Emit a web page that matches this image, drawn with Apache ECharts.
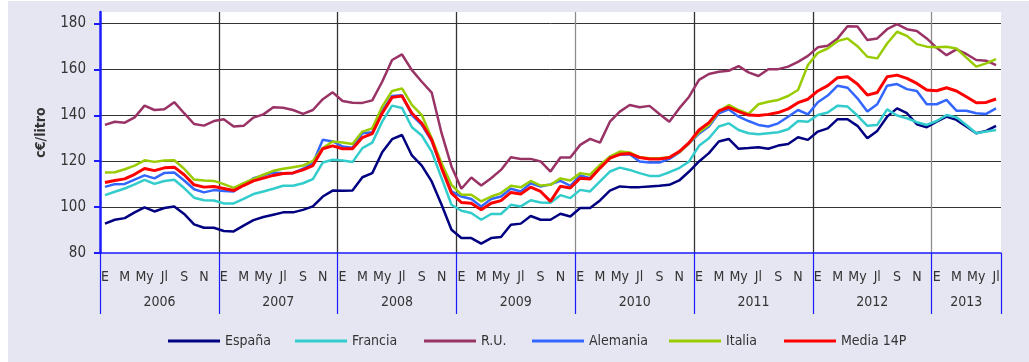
<!DOCTYPE html>
<html>
<head>
<meta charset="utf-8">
<script src="https://cdn.jsdelivr.net/npm/echarts@6/dist/echarts.min.js"></script>
<style>
  body { margin: 0; background: #fff; }
  #box { position: absolute; left: 8px; top: 1px; width: 1021px; height: 361px; background: #e6e6f2; }
</style>
</head>
<body>
<div id="box"></div>
<script>
// meses (etiquetas del eje) y años
const months = ['E', 'F', 'M', 'A', 'My', 'Jn', 'Jl', 'Ag', 'S', 'O', 'N', 'D'];
const years = ['2006', '2007', '2008', '2009', '2010', '2011', '2012', '2013'];
const nMonths = 91; // ene 2006 - jul 2013
const yTicks = [80, 100, 120, 140, 160, 180];

// c€/litro, mensual
const espana = [92.8, 94.5, 95.2, 97.7, 99.9, 98.1, 99.6, 100.3, 97.0, 92.5, 91.0, 91.0,
  89.6, 89.4, 91.9, 94.3, 95.7, 96.7, 97.7, 97.7, 98.8, 100.3, 104.6, 107.2,
  107.1, 107.2, 113.0, 114.8, 123.9, 129.6, 131.4, 122.5, 118.1, 111.2, 101.0, 90.1,
  86.5, 86.5, 84.1, 86.5, 87.0, 92.3, 92.8, 96.1, 94.5, 94.5, 97.1, 95.9,
  99.6, 99.6, 102.9, 107.2, 109.0, 108.7, 108.7, 109.0, 109.3, 109.7, 111.6, 115.5,
  119.9, 123.5, 128.6, 129.7, 125.4, 125.7, 126.1, 125.4, 126.8, 127.5, 130.4, 129.3,
  132.9, 134.3, 138.3, 138.3, 135.4, 130.0, 133.2, 139.4, 143.0, 140.9, 136.1, 134.8,
  137.2, 139.4, 138.0, 135.1, 132.2, 133.2, 135.4];
const francia = [105.2, 106.7, 108.1, 109.9, 111.9, 110.1, 111.4, 111.9, 108.3, 104.1, 103.0, 102.9,
  101.6, 101.6, 103.6, 105.7, 106.8, 108.0, 109.3, 109.3, 110.4, 112.2, 119.4, 120.6,
  120.3, 119.6, 125.7, 128.1, 137.2, 144.2, 143.2, 134.8, 131.2, 124.2, 112.6, 101.0,
  98.4, 97.4, 94.5, 97.0, 97.0, 101.0, 100.3, 103.0, 102.0, 101.9, 105.2, 103.9,
  107.5, 106.8, 111.2, 115.5, 117.2, 116.2, 114.8, 113.6, 113.6, 115.2, 117.0, 119.9,
  126.7, 130.0, 135.1, 136.5, 133.6, 132.2, 131.7, 132.2, 132.6, 133.9, 137.5, 137.2,
  140.1, 141.2, 144.2, 143.8, 139.9, 135.4, 135.8, 142.6, 139.9, 138.7, 137.0, 135.8,
  137.5, 140.1, 139.1, 135.8, 132.2, 132.9, 133.6];
const ru = [135.8, 137.2, 136.8, 139.1, 144.2, 142.3, 142.6, 145.7, 140.9, 136.2, 135.5, 137.5,
  138.3, 135.1, 135.4, 139.0, 140.4, 143.5, 143.3, 142.3, 140.6, 142.3, 147.0, 150.0,
  146.2, 145.5, 145.4, 146.5, 154.6, 164.1, 166.5, 159.7, 154.6, 149.9, 132.2, 117.7,
  108.0, 112.9, 109.4, 112.6, 116.2, 121.7, 121.0, 121.0, 119.9, 115.5, 121.6, 121.6,
  127.1, 129.7, 128.1, 137.2, 141.6, 144.5, 143.5, 144.1, 140.6, 137.2, 143.0, 148.1,
  155.4, 158.0, 159.0, 159.4, 161.4, 158.7, 157.1, 160.1, 160.1, 161.2, 163.3, 165.9,
  169.6, 170.3, 173.5, 178.8, 178.7, 172.8, 173.5, 177.5, 179.7, 177.5, 176.7, 173.5,
  169.4, 166.2, 168.7, 166.7, 164.1, 163.8, 161.9];
const alemania = [108.8, 110.0, 110.1, 112.0, 113.8, 112.5, 114.9, 115.1, 111.6, 107.8, 106.4, 107.4,
  107.0, 106.8, 109.7, 112.6, 113.8, 115.1, 114.8, 114.8, 116.7, 119.1, 129.3, 128.6,
  126.4, 125.9, 132.2, 132.6, 141.9, 148.4, 148.7, 140.1, 135.8, 128.8, 117.7, 106.8,
  104.6, 103.5, 100.3, 103.5, 104.6, 108.0, 106.8, 110.4, 109.0, 109.9, 111.4, 109.3,
  113.8, 112.6, 117.7, 122.0, 122.8, 123.0, 119.9, 119.4, 119.4, 121.0, 123.8, 127.8,
  132.0, 135.1, 140.9, 142.6, 139.4, 137.5, 135.8, 135.1, 136.5, 139.4, 142.3, 140.4,
  145.7, 148.6, 152.9, 152.0, 147.4, 141.6, 144.8, 152.9, 153.6, 151.4, 150.6, 144.8,
  144.8, 146.7, 142.0, 142.0, 140.9, 140.6, 143.0];
const italia = [115.1, 115.2, 116.5, 118.1, 120.4, 119.7, 120.3, 120.4, 116.7, 112.0, 111.6, 111.4,
  110.0, 108.4, 110.4, 112.3, 114.1, 115.8, 116.7, 117.4, 118.1, 120.1, 125.7, 128.6,
  128.1, 127.5, 132.9, 134.3, 143.8, 150.6, 151.7, 144.5, 140.1, 130.0, 119.1, 109.7,
  105.4, 105.4, 102.5, 104.6, 106.1, 109.3, 108.6, 111.4, 109.4, 109.7, 112.5, 111.6,
  114.8, 114.1, 118.4, 122.0, 124.2, 123.8, 121.7, 121.3, 121.3, 121.7, 123.9, 127.8,
  132.6, 135.8, 141.6, 144.5, 142.3, 140.6, 144.8, 145.9, 146.7, 148.4, 151.0, 161.9,
  167.2, 169.1, 172.3, 173.5, 170.1, 165.5, 164.8, 171.3, 176.4, 174.6, 171.0, 169.9,
  169.6, 169.9, 169.1, 165.1, 161.2, 162.6, 164.5];
const media14p = [110.7, 111.6, 112.3, 114.3, 116.8, 115.9, 117.1, 117.4, 114.1, 109.7, 108.7, 109.0,
  108.1, 107.2, 109.4, 111.4, 112.6, 113.8, 114.6, 114.9, 116.2, 118.1, 125.4, 126.7,
  125.4, 125.4, 130.3, 132.0, 140.9, 147.8, 148.4, 140.9, 136.5, 129.3, 117.0, 106.1,
  102.0, 101.7, 98.8, 101.7, 102.8, 106.4, 105.7, 108.7, 106.8, 102.5, 109.1, 108.3,
  112.6, 112.2, 117.0, 121.3, 123.0, 123.3, 121.6, 121.0, 121.0, 121.6, 124.2, 128.1,
  133.6, 136.8, 141.9, 143.5, 141.6, 140.1, 139.9, 140.4, 141.2, 142.8, 145.5, 147.0,
  150.6, 152.9, 156.4, 156.8, 153.6, 148.8, 149.9, 156.8, 157.5, 156.1, 153.9, 151.0,
  150.7, 152.0, 150.6, 148.1, 145.5, 145.6, 147.1];

const names = ['España', 'Francia', 'R.U.', 'Alemania', 'Italia', 'Media 14P'];
const colors = ['#000080', '#33cccc', '#993366', '#3366ff', '#99cc00', '#ff0000'];
const values = [espana, francia, ru, alemania, italia, media14p];
const legendLeft = [160, 287, 416, 524, 661, 776];

// categorias "E 2006", ...
const categories = [];
for (let i = 0; i < nMonths; i++) {
  categories.push(months[i % 12] + ' ' + years[Math.floor(i / 12)]);
}
// centro de cada año (en meses) para poner la etiqueta del año
const yearMid = years.map((y, k) => (k * 12 + Math.min(k * 12 + 12, nMonths)) / 2);

const font = "'DejaVu Sans Condensed', 'Liberation Sans Narrow', sans-serif";
const blue = '#1a1aff';

var myChart = echarts.init(document.getElementById('box'));
var option = {
  animation: false,
  grid: { left: 92, right: 28, top: 11, bottom: 109, show: true, backgroundColor: '#fff', borderWidth: 0 },
  xAxis: [
    {
      type: 'category',
      data: categories,
      position: 'bottom',
      boundaryGap: true,
      axisLine: { lineStyle: { color: blue, width: 1.5 } },
      axisTick: { show: false },
      axisLabel: {
        interval: 1,
        margin: 17,
        color: '#333',
        fontFamily: font,
        fontSize: 14,
        formatter: v => v.split(' ')[0]
      },
      splitLine: { show: false }
    },
    {
      // separadores de año
      type: 'value',
      min: 0,
      max: nMonths,
      interval: 12,
      position: 'bottom',
      axisLine: { show: false },
      axisTick: { show: true, length: 61, lineStyle: { color: blue, width: 1.2 } },
      axisLabel: { show: false },
      splitLine: {
        show: true,
        lineStyle: {
          color: ['rgba(0,0,0,0)', '#333', '#333', '#333', '#8c8c8c', '#333', '#333', '#8c8c8c', 'rgba(0,0,0,0)'],
          width: 1.3
        }
      }
    },
    {
      // etiquetas de año
      type: 'value',
      min: 0,
      max: nMonths,
      interval: 0.5,
      position: 'bottom',
      axisLine: { show: false },
      axisTick: { show: false },
      splitLine: { show: false },
      axisLabel: {
        margin: 42,
        color: '#333',
        fontFamily: font,
        fontSize: 14,
        formatter: function (v) {
          const k = yearMid.findIndex(m => Math.abs(m - v) < 1e-6);
          return k >= 0 ? years[k] : '';
        }
      }
    }
  ],
  yAxis: {
    type: 'value',
    min: 80,
    max: 185,
    interval: 20,
    name: 'c€/litro',
    nameLocation: 'middle',
    nameGap: 52,
    nameRotate: 90,
    nameTextStyle: { color: '#333', fontFamily: font, fontSize: 14, fontWeight: 'bold' },
    axisLine: { show: true, lineStyle: { color: blue, width: 2.5 } },
    axisTick: { show: true, length: 6, customValues: yTicks, lineStyle: { color: blue, width: 2 } },
    axisLabel: { margin: 14, color: '#333', fontFamily: font, fontSize: 15, customValues: yTicks },
    splitLine: {
      show: true,
      lineStyle: {
        color: ['rgba(0,0,0,0)', '#333', '#333', '#333', '#333', '#333', 'rgba(0,0,0,0)'],
        width: 1
      }
    }
  },
  legend: names.map((n, k) => ({
    data: [n],
    left: legendLeft[k],
    top: 333,
    padding: 0,
    icon: 'rect',
    itemWidth: 52,
    itemHeight: 3,
    itemGap: 4,
    textStyle: { color: '#333', fontFamily: font, fontSize: 14 }
  })),
  series: names.map((n, k) => ({
    name: n,
    type: 'line',
    xAxisIndex: 0,
    yAxisIndex: 0,
    symbol: 'none',
    data: values[k],
    color: colors[k],
    lineStyle: { color: colors[k], width: k === 5 ? 3 : 2.5 }
  }))
};
myChart.setOption(option);
</script>
</body>
</html>
